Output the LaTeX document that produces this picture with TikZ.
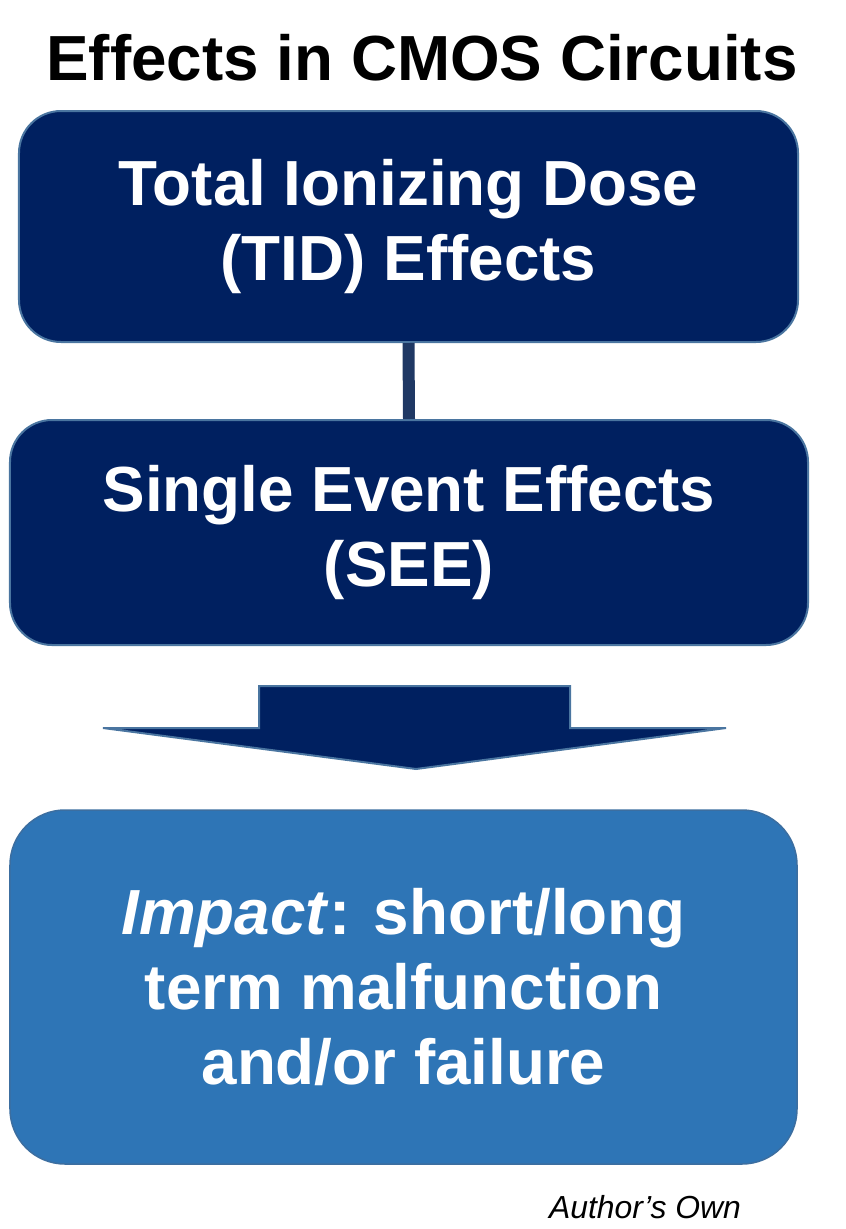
\documentclass[tikz,border=0pt]{standalone}
\usepackage{fontspec}
\setmainfont{Liberation Sans}
\usepackage{tikz}
\usetikzlibrary{shapes,arrows}
\definecolor{navy}{RGB}{0,32,96}
\definecolor{rim}{RGB}{74,117,160}
\definecolor{link}{RGB}{31,56,100}
\definecolor{impactblue}{RGB}{46,117,182}
\definecolor{impactrim}{RGB}{60,110,160}
\tikzset{
  effbox/.style={draw=rim,line width=2bp,fill=navy,rounded corners=42bp,text=white,
    align=center,font=\fontsize{64}{75}\selectfont\bfseries,inner sep=0pt},
}
\begin{document}
\begin{tikzpicture}[x=1bp,y=1bp]
\useasboundingbox (0,0) rectangle (846,-1229);

\node (title) at (422,-58) [font=\fontsize{64}{75}\selectfont\bfseries] {Effects in CMOS Circuits};

\node (TID) at (408.5,-226.5)[effbox,minimum width=779bp,minimum height=231bp] {Total Ionizing Dose\\(TID) Effects};
\node (SEE) at (409,-532.5)[effbox,minimum width=798bp,minimum height=225bp] {Single Event Effects\\(SEE)};
\draw [link,line width=12bp] (TID.south) -- (SEE.north);

% down arrow
\coordinate (s1) at (259,-686);
\coordinate (s2) at (570,-686);
\coordinate (h1) at (103,-728);
\coordinate (h2) at (726,-728);
\coordinate (tip) at (416,-769);
\draw [rim,line width=2bp,fill=navy,line join=miter] (h1) -- (259,-728) -- (s1) -- (s2) -- (570,-728) -- (h2) -- (tip) -- cycle;

\node (impact) at (403.5,-987)[effbox,draw=impactrim,line width=1.5bp,fill=impactblue,rounded corners=55bp,
  minimum width=787bp,minimum height=354bp] {\textit{Impact}: short/long\\term malfunction\\and/or failure};

\node (credit) at (645,-1207) [font=\fontsize{32}{36}\selectfont\itshape] {Author’s Own};
\end{tikzpicture}
\end{document}
